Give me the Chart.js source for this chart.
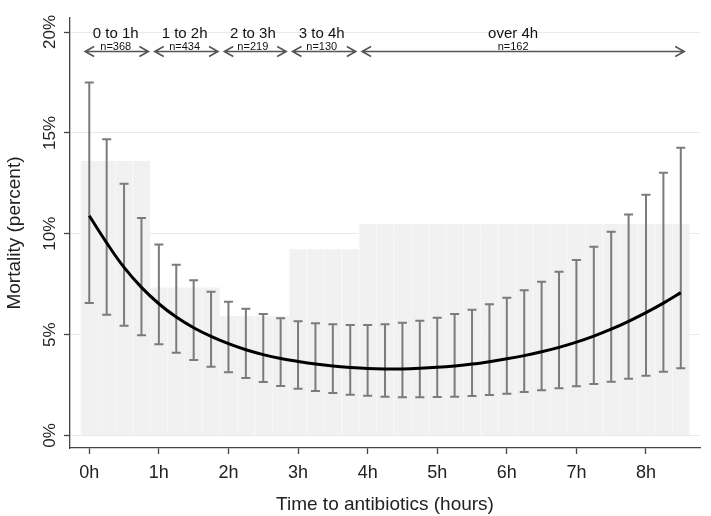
<!DOCTYPE html>
<html><head><meta charset="utf-8">
<script src="https://cdn.jsdelivr.net/npm/chart.js@4"></script>
<style>html,body{margin:0;padding:0;background:#fff}</style>
</head><body>
<canvas id="c" width="711" height="516" style="width:711px;height:516px;display:block"></canvas>
<script>
// ---- data ----
const hours = [0,0.25,0.5,0.75,1,1.25,1.5,1.75,2,2.25,2.5,2.75,3,3.25,3.5,3.75,4,4.25,4.5,4.75,5,5.25,5.5,5.75,6,6.25,6.5,6.75,7,7.25,7.5,7.75,8,8.25,8.5];
const fittedMortality = [10.89,9.55,8.33,7.34,6.53,5.87,5.34,4.91,4.55,4.25,4.01,3.82,3.67,3.54,3.44,3.37,3.32,3.30,3.30,3.33,3.38,3.45,3.54,3.66,3.80,3.96,4.15,4.37,4.63,4.93,5.27,5.66,6.09,6.56,7.08];
const lowerCI = [6.57,5.99,5.44,4.97,4.52,4.10,3.74,3.41,3.13,2.85,2.65,2.45,2.32,2.21,2.11,2.02,1.97,1.92,1.89,1.89,1.91,1.92,1.96,2.01,2.07,2.16,2.24,2.34,2.44,2.55,2.67,2.81,2.96,3.16,3.33];
const upperCI = [17.50,14.68,12.48,10.78,9.47,8.46,7.69,7.13,6.63,6.28,6.02,5.81,5.66,5.56,5.51,5.48,5.48,5.51,5.59,5.69,5.84,6.02,6.23,6.50,6.83,7.20,7.62,8.12,8.70,9.36,10.10,10.96,11.93,13.02,14.26];

const binLabels = ['0 to 1h','1 to 2h','2 to 3h','3 to 4h','over 4h'];
const binCounts = ['n=368','n=434','n=219','n=130','n=162'];
const binMortality = [13.62,7.34,5.92,9.23,10.48];
const binArrowFrom = [-0.06,0.94,1.94,2.92,3.92];
const binArrowTo = [0.85,1.85,2.83,3.83,8.55];
const binLabelAt = [0.38,1.37,2.35,3.34,6.09];

const xTickValues = [0,1,2,3,4,5,6,7,8];
const xTickLabels = ['0h','1h','2h','3h','4h','5h','6h','7h','8h'];
const yTickValues = [0,5,10,15,20];
const yTickLabels = ['0%','5%','10%','15%','20%'];

const FONT = "'Liberation Sans', Arial, sans-serif";

const barData = hours.map(h => ({x: h, y: binMortality[Math.min(4, Math.floor(h))]}));
const lineData = hours.map((h, i) => ({x: h, y: fittedMortality[i]}));

const errorBarPlugin = {
  id: 'errorBars',
  beforeDatasetDraw(chart, args) {
    if (args.index !== 1) return;
    const {ctx, scales: {x, y}} = chart;
    ctx.save();
    ctx.strokeStyle = '#7b7b7b';
    ctx.lineWidth = 2;
    hours.forEach((h, i) => {
      const px = x.getPixelForValue(h);
      const pl = y.getPixelForValue(lowerCI[i]);
      const pu = y.getPixelForValue(upperCI[i]);
      ctx.beginPath();
      ctx.moveTo(px, pl); ctx.lineTo(px, pu);
      ctx.moveTo(px - 4.5, pu); ctx.lineTo(px + 4.5, pu);
      ctx.moveTo(px - 4.5, pl); ctx.lineTo(px + 4.5, pl);
      ctx.stroke();
    });
    ctx.restore();
  }
};

const annotPlugin = {
  id: 'annot',
  afterDraw(chart) {
    const {ctx, scales: {x, y}} = chart;
    ctx.save();
    // y tick labels, rotated
    ctx.fillStyle = '#222';
    ctx.font = '17px ' + FONT;
    ctx.textAlign = 'center';
    ctx.textBaseline = 'middle';
    yTickValues.forEach((v, i) => {
      const py = y.getPixelForValue(v);
      ctx.save();
      ctx.translate(50, py);
      ctx.rotate(-Math.PI / 2);
      ctx.fillText(yTickLabels[i], 0, 0);
      ctx.restore();
    });
    // bin arrows and labels
    const ay = 51.5;
    ctx.strokeStyle = '#555';
    ctx.lineWidth = 1.6;
    binLabels.forEach((lab, i) => {
      const x1 = x.getPixelForValue(binArrowFrom[i]);
      const x2 = x.getPixelForValue(binArrowTo[i]);
      ctx.beginPath();
      ctx.moveTo(x1, ay); ctx.lineTo(x2, ay);
      ctx.moveTo(x1 + 9, ay - 5); ctx.lineTo(x1, ay); ctx.lineTo(x1 + 9, ay + 5);
      ctx.moveTo(x2 - 9, ay - 5); ctx.lineTo(x2, ay); ctx.lineTo(x2 - 9, ay + 5);
      ctx.stroke();
      const cx = x.getPixelForValue(binLabelAt[i]);
      ctx.fillStyle = '#111';
      ctx.textBaseline = 'alphabetic';
      ctx.font = '15px ' + FONT;
      ctx.fillText(lab, cx, 37.5);
      ctx.font = '11px ' + FONT;
      ctx.fillText(binCounts[i], cx, 49.5);
    });
    ctx.restore();
  }
};

new Chart(document.getElementById('c'), {
  data: {
    datasets: [
      {
        type: 'bar',
        data: barData,
        backgroundColor: '#f1f1f1',
        borderColor: '#f8f8f8',
        borderWidth: {left: 1, right: 0, top: 0, bottom: 0},
        barPercentage: 1,
        categoryPercentage: 1,
        order: 2
      },
      {
        type: 'line',
        data: lineData,
        borderColor: '#000',
        borderWidth: 3,
        pointRadius: 0,
        tension: 0.4,
        fill: false,
        order: 1
      }
    ]
  },
  options: {
    responsive: false,
    animation: false,
    devicePixelRatio: 1,
    layout: {padding: {top: 18, right: 11, left: 0, bottom: 0}},
    plugins: {legend: {display: false}, tooltip: {enabled: false}},
    scales: {
      x: {
        type: 'linear',
        offset: false,
        min: -0.277,
        max: 8.776,
        afterFit: s => { s.height = 68; },
        afterBuildTicks: s => { s.ticks = xTickValues.map(v => ({value: v})); },
        grid: {offset: false, drawOnChartArea: false, tickLength: 6, tickColor: '#444', tickWidth: 1.3},
        border: {color: '#444', width: 1.3},
        ticks: {
          autoSkip: false, maxRotation: 0, padding: 8,
          color: '#222', font: {family: FONT, size: 18},
          callback: (v, i) => xTickLabels[i]
        },
        title: {display: true, text: 'Time to antibiotics (hours)', color: '#222',
          font: {family: FONT, size: 19}, padding: {top: 0, bottom: 0}}
      },
      y: {
        type: 'linear',
        min: -0.62,
        max: 20.694,
        afterFit: s => { s.width = 70; },
        afterBuildTicks: s => { s.ticks = yTickValues.map(v => ({value: v})); },
        grid: {color: '#e9e9e9', lineWidth: 1, tickLength: 6, tickColor: '#444', tickWidth: 1.3},
        border: {color: '#444', width: 1.3},
        ticks: {display: false},
        title: {display: true, text: 'Mortality (percent)', color: '#222',
          font: {family: FONT, size: 19}, padding: {top: 3, bottom: 0}}
      }
    }
  },
  plugins: [errorBarPlugin, annotPlugin]
});
</script>
</body></html>
